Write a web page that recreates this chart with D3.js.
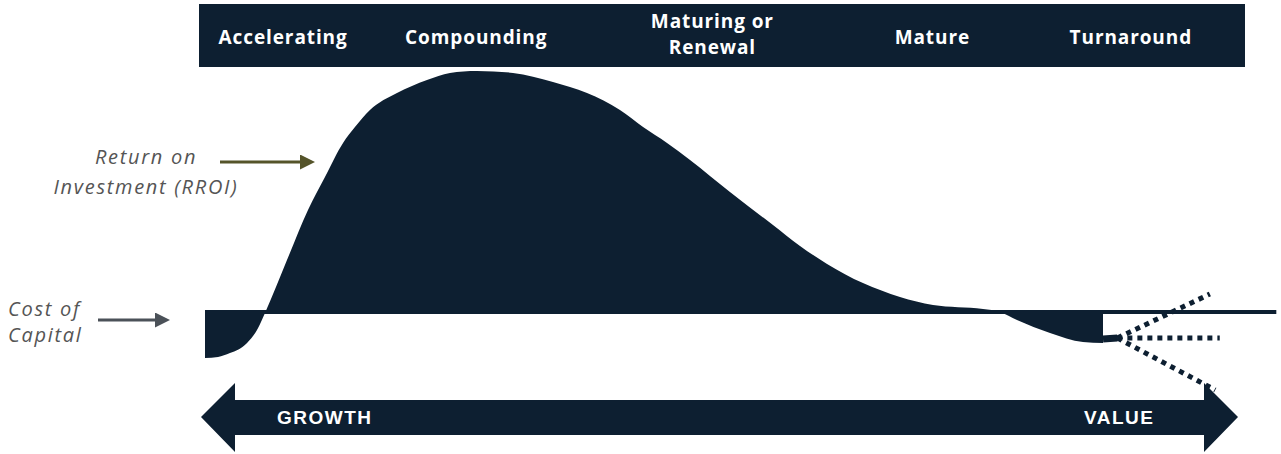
<!DOCTYPE html>
<html>
<head>
<meta charset="utf-8">
<script src="https://cdn.jsdelivr.net/npm/d3@7"></script>
<style>
  body { margin: 0; background: #fff; }
  svg { display: block; }
</style>
</head>
<body>
<svg></svg>
<script>
"use strict";

// stages along the top band, placed on the lifecycle axis
const stages = ["Accelerating", "Compounding", "Maturing or|Renewal", "Mature", "Turnaround"];
const stagePositions = [8.7, 30.2, 56.5, 81, 103.1];

// lifecycle position (0-100) and return spread over cost of capital
const lifecycleX = [0, 1.45, 2.78, 4.68, 5.79, 6.68, 9.13, 11.47, 13.36, 15.37, 16.7, 18.37, 21.38,
  24.72, 27.28, 30.29, 34.3, 38.75, 42.54, 46.21, 48.78, 51.45, 54.01, 58.46, 63.25, 66.26, 69.27,
  73.27, 77.39, 81.07, 86.64, 88.53, 90.42, 94.1, 97.77, 100];
const spreadValues = [-18.5, -18.1, -16.5, -12.3, -7, 0, 21.8, 42.4, 56, 70, 76.5, 83.5, 90.5,
  95.9, 98.8, 99.6, 98.8, 95.1, 90.5, 83.5, 76.5, 70, 63, 49.8, 36.2, 27.6, 20.2,
  12.3, 6.6, 3.3, 1.6, 0.4, -2.9, -8.2, -11.9, -12.3];

// short tail after the filled area, then the three turnaround scenarios
const tailX = [100, 101.6];
const tailValues = [-10.7, -10.3];
const scenarioStart = [101.6, -10.3];
const scenarioEndX = [111.9, 113.0, 112.5];
const scenarioEndValues = [7.8, -10.3, -31.7];

const costOfCapital = 0;
const costLineEnd = 119.3;

const width = 1281;
const height = 454;
const navy = "#0d1f31";

let xScale;
let yScale;

const svg = d3.select("svg");

const drawCanvas = () => {
  svg.attr("width", width).attr("height", height);
};

const generateScales = () => {
  xScale = d3.scaleLinear().domain([0, 100]).range([205, 1103]);
  yScale = d3.scaleLinear().domain([0, 100]).range([313, 70]);
};

const drawHeader = () => {
  svg.append("rect")
    .attr("x", 199).attr("y", 4)
    .attr("width", 1046).attr("height", 63)
    .attr("fill", navy);

  const labels = svg.append("g")
    .attr("font-family", "'Open Sans', sans-serif")
    .attr("font-weight", 700)
    .attr("font-size", 19)
    .attr("letter-spacing", 0.9)
    .attr("fill", "#fff")
    .attr("text-anchor", "middle");

  stages.forEach((name, i) => {
    const lines = name.split("|");
    lines.forEach((line, j) => {
      const baseY = lines.length === 1 ? 44 : 28 + j * 26;
      labels.append("text")
        .attr("x", xScale(stagePositions[i]))
        .attr("y", baseY)
        .text(line);
    });
  });
};

const drawCurve = () => {
  const points = lifecycleX.map((x, i) => [x, spreadValues[i]]);

  const area = d3.area()
    .x((d) => xScale(d[0]))
    .y0(yScale(costOfCapital))
    .y1((d) => yScale(d[1]))
    .curve(d3.curveMonotoneX);

  svg.append("path")
    .datum(points)
    .attr("d", area)
    .attr("fill", navy);

  const line = d3.line()
    .x((d) => xScale(d[0]))
    .y((d) => yScale(d[1]));

  svg.append("path")
    .datum(tailX.map((x, i) => [x, tailValues[i]]))
    .attr("d", line)
    .attr("fill", "none")
    .attr("stroke", navy)
    .attr("stroke-width", 7);

  // cost of capital line
  svg.append("line")
    .attr("x1", xScale(0)).attr("x2", xScale(costLineEnd))
    .attr("y1", yScale(costOfCapital) - 1).attr("y2", yScale(costOfCapital) - 1)
    .attr("stroke", navy)
    .attr("stroke-width", 4);

  scenarioEndX.forEach((x, i) => {
    svg.append("path")
      .datum([scenarioStart, [x, scenarioEndValues[i]]])
      .attr("d", line)
      .attr("fill", "none")
      .attr("stroke", navy)
      .attr("stroke-width", 5)
      .attr("stroke-dasharray", "5 5");
  });
};

const drawBottomArrow = () => {
  const pts = [
    [201, 417], [235, 383], [235, 400], [1204, 400], [1204, 383], [1238, 417],
    [1204, 452], [1204, 435], [235, 435], [235, 452]
  ];
  svg.append("polygon")
    .attr("points", pts.map((p) => p.join(",")).join(" "))
    .attr("fill", navy);

  const g = svg.append("g")
    .attr("font-family", "'Liberation Sans', Arial, sans-serif")
    .attr("font-weight", 700)
    .attr("font-size", 19)
    .attr("letter-spacing", 1.5)
    .attr("fill", "#fff");
  g.append("text").attr("x", 277).attr("y", 424).text("GROWTH");
  g.append("text").attr("x", 1084).attr("y", 424).text("VALUE");
};

const drawAnnotations = () => {
  const defs = svg.append("defs");
  const marker = (id, color) => {
    defs.append("marker")
      .attr("id", id)
      .attr("viewBox", "0 0 10 10")
      .attr("refX", 0).attr("refY", 5)
      .attr("markerWidth", 5).attr("markerHeight", 5)
      .attr("markerUnits", "strokeWidth")
      .attr("orient", "auto")
      .append("path")
      .attr("d", "M0,0 L10,5 L0,10 Z")
      .attr("fill", color);
  };
  marker("olive-head", "#55542a");
  marker("gray-head", "#4b5158");

  svg.append("line")
    .attr("x1", 220).attr("x2", 300).attr("y1", 162).attr("y2", 162)
    .attr("stroke", "#55542a").attr("stroke-width", 3)
    .attr("marker-end", "url(#olive-head)");

  svg.append("line")
    .attr("x1", 98).attr("x2", 155).attr("y1", 320).attr("y2", 320)
    .attr("stroke", "#4b5158").attr("stroke-width", 3)
    .attr("marker-end", "url(#gray-head)");

  const txt = svg.append("g")
    .attr("font-family", "'Open Sans', sans-serif")
    .attr("font-style", "italic")
    .attr("font-size", 20)
    .attr("letter-spacing", 1.7)
    .attr("fill", "#555");

  txt.append("text").attr("x", 146).attr("y", 164).attr("text-anchor", "middle").text("Return on");
  txt.append("text").attr("x", 146).attr("y", 194).attr("text-anchor", "middle").text("Investment (RROI)");
  txt.append("text").attr("x", 8).attr("y", 316).text("Cost of");
  txt.append("text").attr("x", 8).attr("y", 342).text("Capital");
};

drawCanvas();
generateScales();
drawCurve();
drawBottomArrow();
drawHeader();
drawAnnotations();
</script>
</body>
</html>
